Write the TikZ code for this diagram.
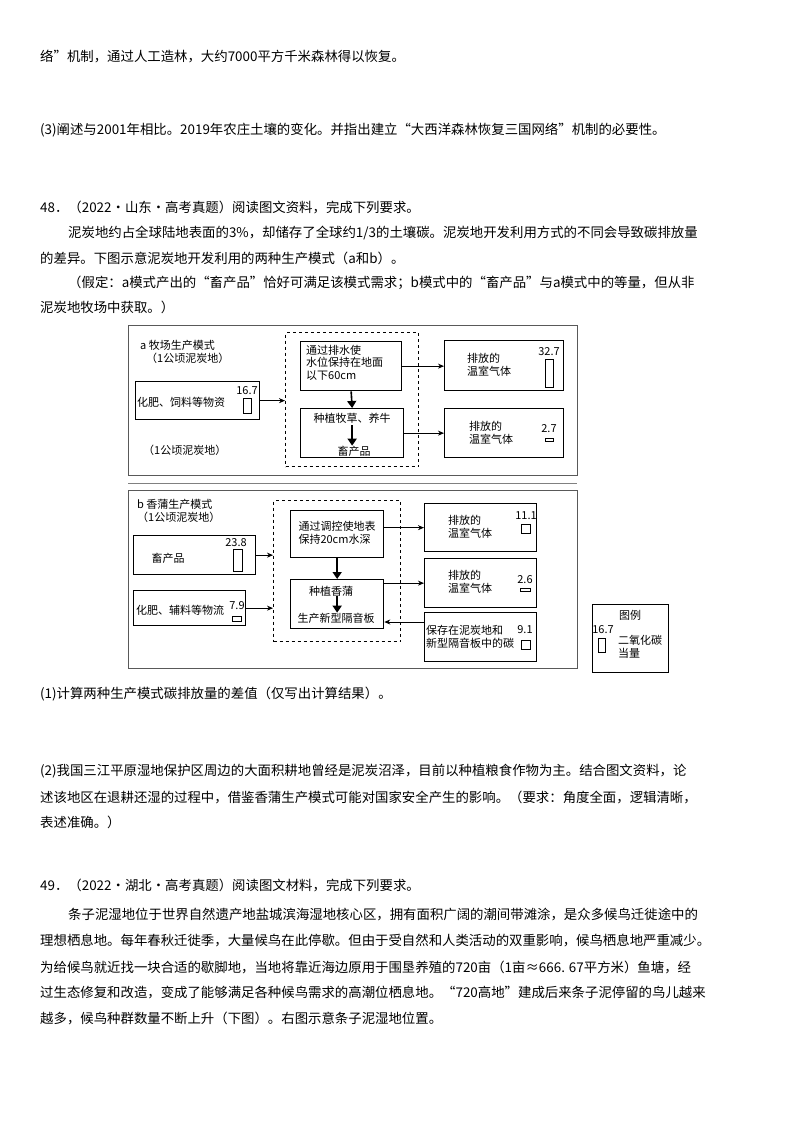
\documentclass[tikz,border=0pt]{standalone}
\usepackage{fontspec}
\setmainfont{Noto Sans CJK SC}
\usetikzlibrary{arrows.meta}
\begin{document}
\begin{tikzpicture}[x=1pt,y=-1pt,
  txt/.style={anchor=west,inner sep=0pt,font=\fontsize{13.4}{15}\selectfont},
  dtx/.style={inner sep=0pt,font=\fontsize{11}{12.5}\selectfont,align=left},
  bx/.style={draw,line width=1.3pt},
  ob/.style={draw,line width=1.3pt,gray!70!black},
  db/.style={draw,dashed,line width=1.1pt},
  bar/.style={draw,line width=0.9pt},
  num/.style={inner sep=0pt,font=\fontsize{11}{12}\selectfont},
  ar/.style={-{Stealth[length=6pt,width=5pt]},line width=0.8pt},
  tar/.style={-{Triangle[length=7pt,width=9pt]},line width=1.6pt}]
\useasboundingbox[fill=white] (0,0) rectangle (800,1132);
% text above
\node[txt] (t1) at (40,57) {络”机制，通过人工造林，大约7000平方千米森林得以恢复。};
\node[txt] (t2) at (40,130) {(3)阐述与2001年相比。2019年农庄土壤的变化。并指出建立“大西洋森林恢复三国网络”机制的必要性。};
\node[txt] (t3) at (40,207) {48．（2022·山东·高考真题）阅读图文资料，完成下列要求。};
\node[txt] (t4) at (68,233) {泥炭地约占全球陆地表面的3\%，却储存了全球约1/3的土壤碳。泥炭地开发利用方式的不同会导致碳排放量};
\node[txt] (t5) at (40,258) {的差异。下图示意泥炭地开发利用的两种生产模式（a和b）。};
\node[txt] (t6) at (68,283) {（假定：a模式产出的“畜产品”恰好可满足该模式需求；b模式中的“畜产品”与a模式中的等量，但从非};
\node[txt] (t7) at (40,307) {泥炭地牧场中获取。）};
% ---------- diagram a
\node[ob,minimum width=449,minimum height=150,inner sep=0pt,anchor=north west] (oa) at (128,325) {};
\node[db,minimum width=133,minimum height=134,inner sep=0pt,anchor=north west] (da) at (285,332) {};
\node[bx,minimum width=101,minimum height=49,inner sep=0pt,anchor=north west] (a1) at (300,341) {};
\node[dtx,anchor=north west] (a1t) at (306,345) {通过排水使\\水位保持在地面\\以下60cm};
\node[bx,minimum width=103,minimum height=49,inner sep=0pt,anchor=north west] (a2) at (300,408) {};
\node[dtx] (a2t) at (352,418) {种植牧草、养牛};
\node[dtx] (a2b) at (354,451) {畜产品};
\node[bx,minimum width=124,minimum height=38,inner sep=0pt,anchor=north west] (al) at (135,381) {};
\node[dtx,anchor=west] (alt) at (137,402) {化肥、饲料等物资};
\node[num] (aln) at (247,391) {16.7};
\node[bar,minimum width=8,minimum height=15,inner sep=0pt,anchor=north west] (alb) at (243,398) {};
\node[bx,minimum width=119,minimum height=50,inner sep=0pt,anchor=north west] (ar1) at (444,340) {};
\node[dtx] (ar1t) at (489,365) {排放的\\温室气体};
\node[num] (ar1n) at (549,352) {32.7};
\node[bar,minimum width=8,minimum height=28,inner sep=0pt,anchor=north west] (ar1b) at (545,359) {};
\node[bx,minimum width=119,minimum height=49,inner sep=0pt,anchor=north west] (ar2) at (444,408) {};
\node[dtx] (ar2t) at (491,433) {排放的\\温室气体};
\node[num] (ar2n) at (549,429) {2.7};
\node[bar,minimum width=8,minimum height=3,inner sep=0pt,anchor=north west] (ar2b) at (545,438) {};
\node[dtx,anchor=west] (la1) at (140,345) {a 牧场生产模式};
\node[dtx,anchor=west] (la2) at (146,358) {（1公顷泥炭地）};
\node[dtx,anchor=west] (la3) at (143,450) {（1公顷泥炭地）};
\draw[ar] (al.east) -- (da.west|-al.east);
\draw[ar] (a1.east) -- (ar1.west|-a1.east);
\draw[ar] (a2.east|-ar2.west) -- (ar2.west);
\draw[tar] (a1.south) -- (a2.north);
\draw[tar] (a2.north) ++(0,17) coordinate (ta) -- (ta|-a2b.north);
\draw[gray,line width=0.8pt] (128,483) -- (577,483);
% ---------- diagram b
\node[ob,minimum width=449,minimum height=178,inner sep=0pt,anchor=north west] (ob) at (128,490) {};
\node[db,minimum width=127,minimum height=141,inner sep=0pt,anchor=north west] (dbx) at (273,500) {};
\node[bx,minimum width=93,minimum height=47,inner sep=0pt,anchor=north west] (b1) at (290,510) {};
\node[dtx] (b1t) at (337,533) {通过调控使地表\\保持20cm水深};
\node[bx,minimum width=93,minimum height=49,inner sep=0pt,anchor=north west] (b2) at (290,579) {};
\node[dtx] (b2t) at (331,591) {种植香蒲};
\node[dtx] (b2b) at (336,618) {生产新型隔音板};
\node[dtx,anchor=west] (lb1) at (137,504) {b 香蒲生产模式};
\node[dtx,anchor=west] (lb2) at (137,517) {（1公顷泥炭地）};
\node[bx,minimum width=122,minimum height=39,inner sep=0pt,anchor=north west] (bl1) at (133,535) {};
\node[dtx] (bl1t) at (168,558) {畜产品};
\node[num] (bl1n) at (236,543) {23.8};
\node[bar,minimum width=9,minimum height=22,inner sep=0pt,anchor=north west] (bl1b) at (233,549) {};
\node[bx,minimum width=112,minimum height=35,inner sep=0pt,anchor=north west] (bl2) at (133,590) {};
\node[dtx,anchor=west] (bl2t) at (136,610) {化肥、辅料等物流};
\node[num] (bl2n) at (237,606) {7.9};
\node[bar,minimum width=9,minimum height=5,inner sep=0pt,anchor=north west] (bl2b) at (232,616) {};
\node[bx,minimum width=112,minimum height=48,inner sep=0pt,anchor=north west] (br1) at (424,503) {};
\node[dtx] (br1t) at (470,527) {排放的\\温室气体};
\node[num] (br1n) at (526,516) {11.1};
\node[bar,minimum width=9,minimum height=9,inner sep=0pt,anchor=north west] (br1b) at (521,524) {};
\node[bx,minimum width=112,minimum height=49,inner sep=0pt,anchor=north west] (br2) at (424,558) {};
\node[dtx] (br2t) at (470,582) {排放的\\温室气体};
\node[num] (br2n) at (525,580) {2.6};
\node[bar,minimum width=10,minimum height=2.5,inner sep=0pt,anchor=north west] (br2b) at (520,588) {};
\node[bx,minimum width=112,minimum height=49,inner sep=0pt,anchor=north west] (br3) at (424,612) {};
\node[dtx,anchor=west] (br3t) at (426,637) {保存在泥炭地和\\新型隔音板中的碳};
\node[num] (br3n) at (525,630) {9.1};
\node[bar,minimum width=9,minimum height=9,inner sep=0pt,anchor=north west] (br3b) at (521,640) {};
\node[bx,minimum width=76,minimum height=68,inner sep=0pt,anchor=north west] (lg) at (592,604) {};
\node[dtx] (lgt) at (630,615) {图例};
\node[num] (lgn) at (603,630) {16.7};
\node[bar,minimum width=7,minimum height=14,inner sep=0pt,anchor=north west] (lgb) at (598,638) {};
\node[dtx] (lgt2) at (640,647) {二氧化碳\\当量};
\draw[ar] (bl1.east) -- (dbx.west|-bl1.east);
\draw[ar] (bl2.east) -- (dbx.west|-bl2.east);
\draw[ar] (b1.east|-br1.west) -- (br1.west);
\draw[ar] (b2.east|-br2.west) -- (br2.west);
\draw[ar] (br3.west|-0,622) -- (b2.east|-0,622);
\draw[tar] (b1.south) -- (b2.north);
\draw[tar] (b2.north) ++(0,17) coordinate (tb) -- (tb|-b2b.north);
% text below
\node[txt] (t8) at (40,694) {(1)计算两种生产模式碳排放量的差值（仅写出计算结果）。};
\node[txt] (t9) at (40,771) {(2)我国三江平原湿地保护区周边的大面积耕地曾经是泥炭沼泽，目前以种植粮食作物为主。结合图文资料，论};
\node[txt] (t10) at (40,797) {述该地区在退耕还湿的过程中，借鉴香蒲生产模式可能对国家安全产生的影响。（要求：角度全面，逻辑清晰，};
\node[txt] (t11) at (40,822) {表述准确。）};
\node[txt] (t12) at (40,885) {49．（2022·湖北·高考真题）阅读图文材料，完成下列要求。};
\node[txt] (t13) at (68,915) {条子泥湿地位于世界自然遗产地盐城滨海湿地核心区，拥有面积广阔的潮间带滩涂，是众多候鸟迁徙途中的};
\node[txt] (t14) at (40,941) {理想栖息地。每年春秋迁徙季，大量候鸟在此停歇。但由于受自然和人类活动的双重影响，候鸟栖息地严重减少。};
\node[txt] (t15) at (40,967) {为给候鸟就近找一块合适的歇脚地，当地将靠近海边原用于围垦养殖的720亩（1亩≈666. 67平方米）鱼塘，经};
\node[txt] (t16) at (40,993) {过生态修复和改造，变成了能够满足各种候鸟需求的高潮位栖息地。“720高地”建成后来条子泥停留的鸟儿越来};
\node[txt] (t17) at (40,1018) {越多，候鸟种群数量不断上升（下图）。右图示意条子泥湿地位置。};
\end{tikzpicture}
\end{document}
